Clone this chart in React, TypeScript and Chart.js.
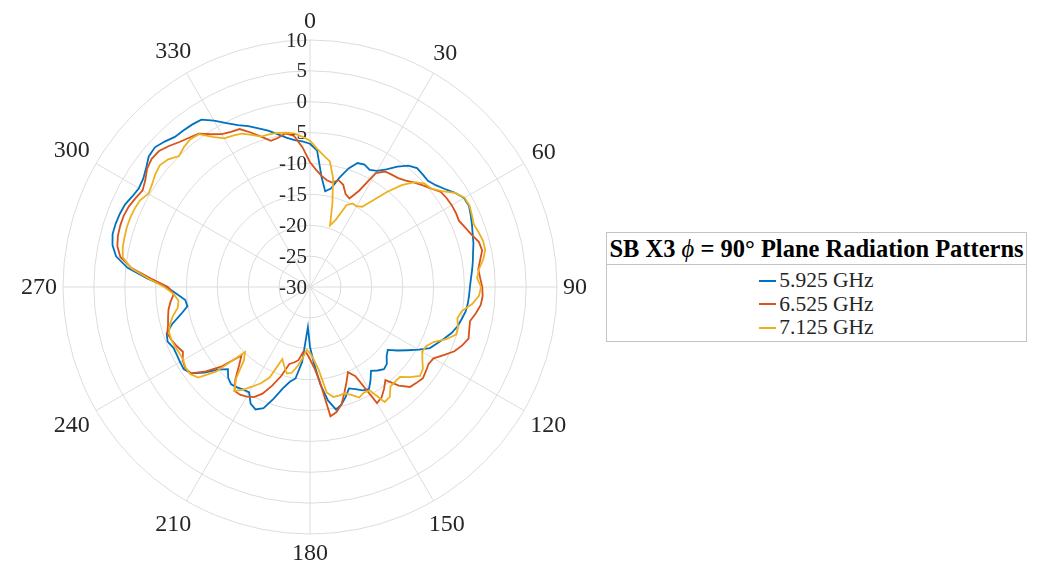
import React, { useEffect, useRef } from "react";
import { Chart, registerables } from "chart.js";

Chart.register(...registerables);

// Angular grid (degrees, clockwise from top)
const THETA: number[] = Array.from({ length: 120 }, (_, i) => i * 3);

const ANGLE_TICKS = ["0", "30", "60", "90", "120", "150", "180", "210", "240", "270", "300", "330"];
const R_TICKS = [10, 5, 0, -5, -10, -15, -20, -25, -30];

const LEGEND_TITLE_PREFIX = "SB X3 ";
const LEGEND_TITLE_SYMBOL = "\u03D5";
const LEGEND_TITLE_SUFFIX = " = 90\u00B0 Plane Radiation Patterns";

const SERIES_NAMES = ["5.925 GHz", "6.525 GHz", "7.125 GHz"];
const SERIES_COLORS = ["#0072BD", "#D95319", "#EDB120"];

// Gain in dB at THETA angles
const GAIN_5925 = [
  -6.8, -7.9, -12.1, -14.3, -13.7, -11.7, -9.8, -8.5, -8.3, -8.7,
  -8.3, -7.3, -5.9, -4.7, -4.1, -4.2, -4.3, -3.8, -3.0, -2.0,
  -1.2, -1.1, -1.5, -1.9, -2.3, -2.6, -3.0, -3.3, -3.6, -3.9,
  -4.1, -4.2, -4.3, -4.5, -4.9, -5.3, -5.9, -6.7, -7.5, -8.2,
  -9.7, -11.2, -12.5, -13.8, -13.3, -12.4, -12.1, -12.6, -13.2, -12.0,
  -10.9, -11.2, -11.9, -12.4, -11.3, -10.3, -9.7, -11.4, -14.2, -17.6,
  -20.3, -23.5, -17.8, -15.0, -14.3, -13.0, -11.0, -9.0, -8.3, -8.8,
  -10.3, -10.2, -9.9, -9.7, -10.2, -11.2, -10.0, -8.0, -6.2, -5.6,
  -5.7, -5.8, -5.8, -5.3, -5.6, -6.9, -8.6, -9.9, -9.7, -8.4,
  -6.8, -3.6, -0.3, 1.8, 2.7, 3.1, 3.1, 3.0, 2.8, 2.3,
  2.0, 2.2, 2.8, 3.6, 3.8, 3.3, 2.7, 2.6, 2.5, 2.3,
  1.1, -0.2, -1.3, -2.1, -3.0, -3.8, -4.7, -5.5, -6.1, -6.4,
];

const GAIN_6525 = [
  -9.8, -11.0, -11.9, -12.5, -12.7, -12.1, -12.6, -13.9, -14.3, -12.5,
  -8.7, -7.7, -7.5, -7.3, -6.8, -6.1, -5.4, -4.7, -3.8, -3.6,
  -3.5, -3.5, -3.6, -3.1, -2.5, -1.7, -1.5, -2.1, -2.6, -2.4,
  -2.1, -2.0, -2.2, -2.8, -3.5, -3.3, -3.0, -3.6, -4.4, -5.7,
  -6.9, -7.1, -6.8, -6.5, -6.8, -7.1, -8.5, -10.6, -9.6, -8.7,
  -8.3, -13.8, -14.9, -13.5, -12.0, -10.3, -9.3, -8.8, -14.5, -16.9,
  -18.3, -19.3, -19.4, -18.0, -17.5, -17.1, -14.8, -12.9, -11.1, -10.0,
  -9.5, -9.2, -9.2, -10.8, -12.8, -14.3, -10.8, -8.3, -6.2, -5.9,
  -6.2, -6.9, -6.4, -6.0, -5.7, -6.2, -6.5, -6.8, -7.3, -7.9,
  -7.0, -4.2, -1.0, 1.1, 1.9, 2.2, 2.3, 2.3, 2.1, 1.7,
  1.3, 1.8, 2.6, 3.0, 2.9, 2.3, 1.6, 1.1, 0.7, -0.5,
  -1.4, -1.8, -2.0, -3.2, -4.4, -5.5, -5.3, -4.8, -5.4, -7.4,
];

const GAIN_7125 = [
  -6.3, -7.6, -8.6, -9.4, -12.0, -16.0, -19.5, -18.3, -15.5, -14.8,
  -14.9, -14.5, -12.7, -10.2, -7.8, -6.0, -5.0, -4.7, -3.6, -2.0,
  -1.1, -1.0, -1.3, -1.6, -1.3, -1.0, -1.0, -1.6, -2.5, -2.9,
  -2.3, -2.6, -3.6, -5.1, -5.6, -5.2, -5.1, -6.4, -8.1, -8.9,
  -9.0, -8.3, -7.4, -7.1, -8.2, -9.4, -9.4, -9.3, -8.0, -7.8,
  -10.7, -10.8, -10.4, -11.3, -11.9, -11.8, -11.8, -12.7, -16.5, -18.2,
  -19.3, -19.8, -18.4, -17.0, -15.8, -15.5, -16.5, -17.5, -14.0, -12.5,
  -11.4, -10.2, -9.2, -11.0, -14.0, -15.1, -9.5, -6.7, -6.0, -6.0,
  -6.3, -6.3, -6.1, -6.0, -6.0, -6.5, -7.3, -8.3, -8.6, -7.9,
  -6.4, -3.8, -0.9, 0.7, 1.0, 1.1, 1.2, 1.2, 1.1, 0.9,
  0.2, 0.5, 1.0, 1.3, 0.9, 0.0, 0.5, 0.8, 0.6, -1.0,
  -2.2, -2.5, -2.8, -3.6, -4.4, -4.4, -4.5, -4.7, -5.0, -5.6,
];

const GRID_COLOR = "#dcdcdc";
const TEXT_COLOR = "#262626";
const FONT_FAMILY = '"Liberation Serif", "Times New Roman", serif';

const polarLabels = {
  id: "polarLabels",
  beforeDatasetsDraw(chart: any) {
    const s = chart.scales.r;
    const ctx = chart.ctx;
    ctx.save();
    ctx.fillStyle = TEXT_COLOR;
    ctx.textAlign = "center";
    ctx.textBaseline = "middle";
    ctx.font = `24px ${FONT_FAMILY}`;
    const gap = 6;
    const halfH = 13;
    ANGLE_TICKS.forEach((t) => {
      const idx = THETA.indexOf(Number(t));
      const a = (Number(t) * Math.PI) / 180;
      const halfW = ctx.measureText(t).width / 2;
      const dist = s.drawingArea + gap + Math.abs(Math.sin(a)) * halfW + Math.abs(Math.cos(a)) * halfH;
      const p = s.getPointPosition(idx, dist);
      ctx.fillText(t, p.x, p.y + 1);
    });
    ctx.font = `21px ${FONT_FAMILY}`;
    ctx.textAlign = "right";
    R_TICKS.forEach((v) => {
      const p = s.getPointPositionForValue(0, v);
      ctx.fillText(String(v), p.x - 3, p.y + 1);
    });
    ctx.restore();
  },
};

function PolarChart() {
  const ref = useRef<HTMLCanvasElement | null>(null);
  useEffect(() => {
    if (!ref.current) return;
    const series = [GAIN_5925, GAIN_6525, GAIN_7125];
    const chart = new Chart(ref.current, {
      type: "radar",
      data: {
        labels: THETA.map(String),
        datasets: series.map((d, i) => ({
          label: SERIES_NAMES[i],
          data: d,
          borderColor: SERIES_COLORS[i],
          backgroundColor: SERIES_COLORS[i],
          borderWidth: 1.8,
          pointRadius: 0,
          pointHoverRadius: 0,
          fill: false,
          tension: 0,
          order: 2 - i,
        })),
      },
      options: {
        responsive: false,
        animation: false,
        layout: { padding: { left: 63, top: 40, right: 63, bottom: 36 } },
        plugins: { legend: { display: false }, tooltip: { enabled: false } },
        scales: {
          r: {
            min: -30,
            max: 10,
            beginAtZero: false,
            ticks: { display: false, stepSize: 5 },
            grid: { circular: true, color: GRID_COLOR, lineWidth: 1 },
            angleLines: {
              display: true,
              lineWidth: 1,
              color: (c: any) => (c.index % 10 === 0 ? GRID_COLOR : "rgba(0,0,0,0)"),
            },
            pointLabels: { display: false },
          },
        },
      },
      plugins: [polarLabels],
    });
    return () => chart.destroy();
  }, []);
  return (
    <canvas
      ref={ref}
      width={620}
      height={570}
      style={{ position: "absolute", left: 0, top: 0, width: 620, height: 570 }}
    />
  );
}

function Legend() {
  return (
    <div
      style={{
        position: "absolute",
        left: 606,
        top: 232,
        width: 421,
        height: 110,
        boxSizing: "border-box",
        border: "1px solid #c4c4c4",
        background: "#fff",
        fontFamily: FONT_FAMILY,
        color: "#000",
      }}
    >
      <div
        style={{
          height: 32,
          borderBottom: "1px solid #c4c4c4",
          boxSizing: "border-box",
          display: "flex",
          alignItems: "center",
          justifyContent: "center",
          fontSize: 24.5,
          fontWeight: "bold",
          whiteSpace: "nowrap",
        }}
      >
        <span>
          {LEGEND_TITLE_PREFIX}
          <span style={{ fontStyle: "italic", fontWeight: "normal" }}>{LEGEND_TITLE_SYMBOL}</span>
          {LEGEND_TITLE_SUFFIX}
        </span>
      </div>
      <div style={{ paddingTop: 4 }}>
        {SERIES_NAMES.map((n, i) => (
          <div
            key={n}
            style={{
              height: 23.5,
              display: "flex",
              alignItems: "center",
              justifyContent: "center",
              fontSize: 21.5,
              color: TEXT_COLOR,
              whiteSpace: "nowrap",
            }}
          >
            <span
              style={{
                display: "inline-block",
                width: 17,
                height: 2,
                background: SERIES_COLORS[i],
                marginRight: 3,
              }}
            />
            <span>{n}</span>
          </div>
        ))}
      </div>
    </div>
  );
}

export default function App() {
  return (
    <div style={{ position: "absolute", left: 0, top: 0, width: 1053, height: 570, background: "#fff" }}>
      <PolarChart />
      <Legend />
    </div>
  );
}
